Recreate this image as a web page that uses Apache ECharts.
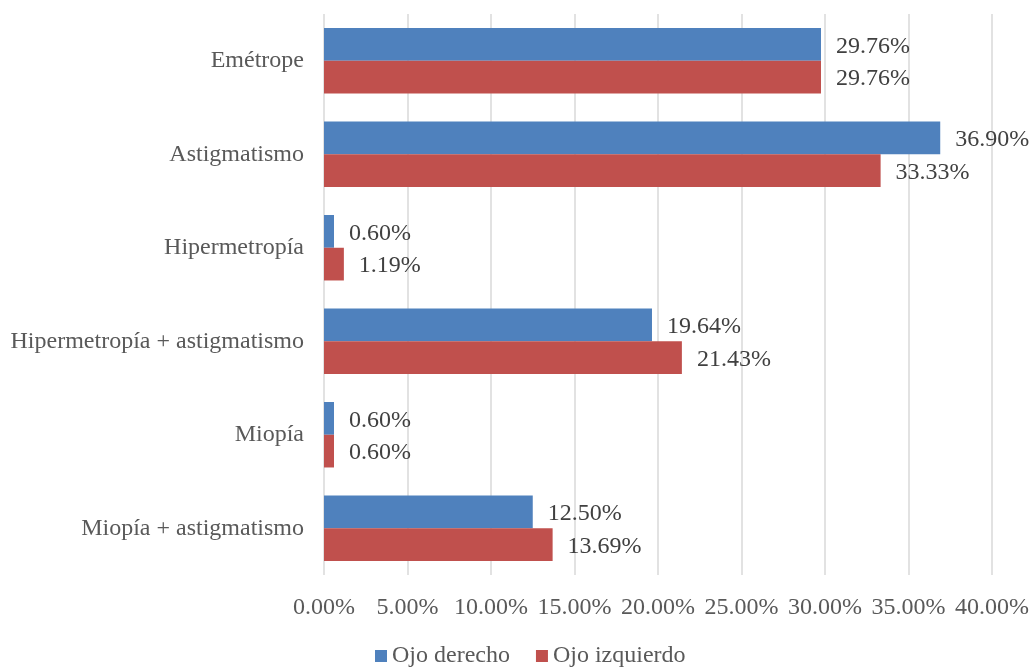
<!DOCTYPE html>
<html>
<head>
<meta charset="utf-8">
<script src="https://cdn.jsdelivr.net/npm/echarts@6/dist/echarts.min.js"></script>
<style>
  html, body { margin: 0; padding: 0; background: #fff; }
  #chart { width: 1032px; height: 668px; }
</style>
</head>
<body>
<div id="chart"></div>
<script>
// categorias (de arriba a abajo)
const categorias = ['Emétrope', 'Astigmatismo', 'Hipermetropía', 'Hipermetropía + astigmatismo', 'Miopía', 'Miopía + astigmatismo']
const ojoDerecho = [29.76, 36.90, 0.60, 19.64, 0.60, 12.50]
const ojoIzquierdo = [29.76, 33.33, 1.19, 21.43, 0.60, 13.69]

const fuente = 'Liberation Serif, Times New Roman, serif'
const gris = '#595959'
const tam = 24

let chart = echarts.init(document.getElementById('chart'))

let labelCfg = {
    show: true,
    position: 'right',
    distance: 15,
    color: '#404040',
    fontFamily: fuente,
    fontSize: tam,
    offset: [0, 2],
    formatter: function (p) {
        return p.value.toFixed(2) + '%'
    }
}

let option = {
    animation: false,
    textStyle: { fontFamily: fuente },
    grid: { left: 324, right: 39, top: 14, bottom: 93, containLabel: false },
    legend: {
        top: 639,
        left: 370,
        itemWidth: 12,
        itemHeight: 12,
        itemGap: 26,
        icon: 'rect',
        textStyle: { color: gris, fontFamily: fuente, fontSize: tam },
        data: ['Ojo derecho', 'Ojo izquierdo']
    },
    xAxis: {
        type: 'value',
        min: 0,
        max: 40,
        interval: 5,
        axisLine: { show: false },
        axisTick: { show: false },
        splitLine: { show: true, lineStyle: { color: '#d9d9d9', width: 1.5 } },
        axisLabel: {
            margin: 21,
            color: gris,
            fontFamily: fuente,
            fontSize: tam,
            formatter: function (v) { return v.toFixed(2) + '%' }
        }
    },
    yAxis: {
        type: 'category',
        inverse: true,
        data: categorias,
        axisLine: { show: false },
        axisTick: { show: false },
        axisLabel: { margin: 20, color: gris, fontFamily: fuente, fontSize: tam }
    },
    series: [
        {
            name: 'Ojo derecho',
            type: 'bar',
            data: ojoDerecho,
            barGap: '0%',
            barCategoryGap: '30%',
            itemStyle: { color: '#4f81bd' },
            label: labelCfg
        },
        {
            name: 'Ojo izquierdo',
            type: 'bar',
            data: ojoIzquierdo,
            barGap: '0%',
            barCategoryGap: '30%',
            itemStyle: { color: '#c0504d' },
            label: labelCfg
        }
    ]
}

chart.setOption(option)
</script>
</body>
</html>
